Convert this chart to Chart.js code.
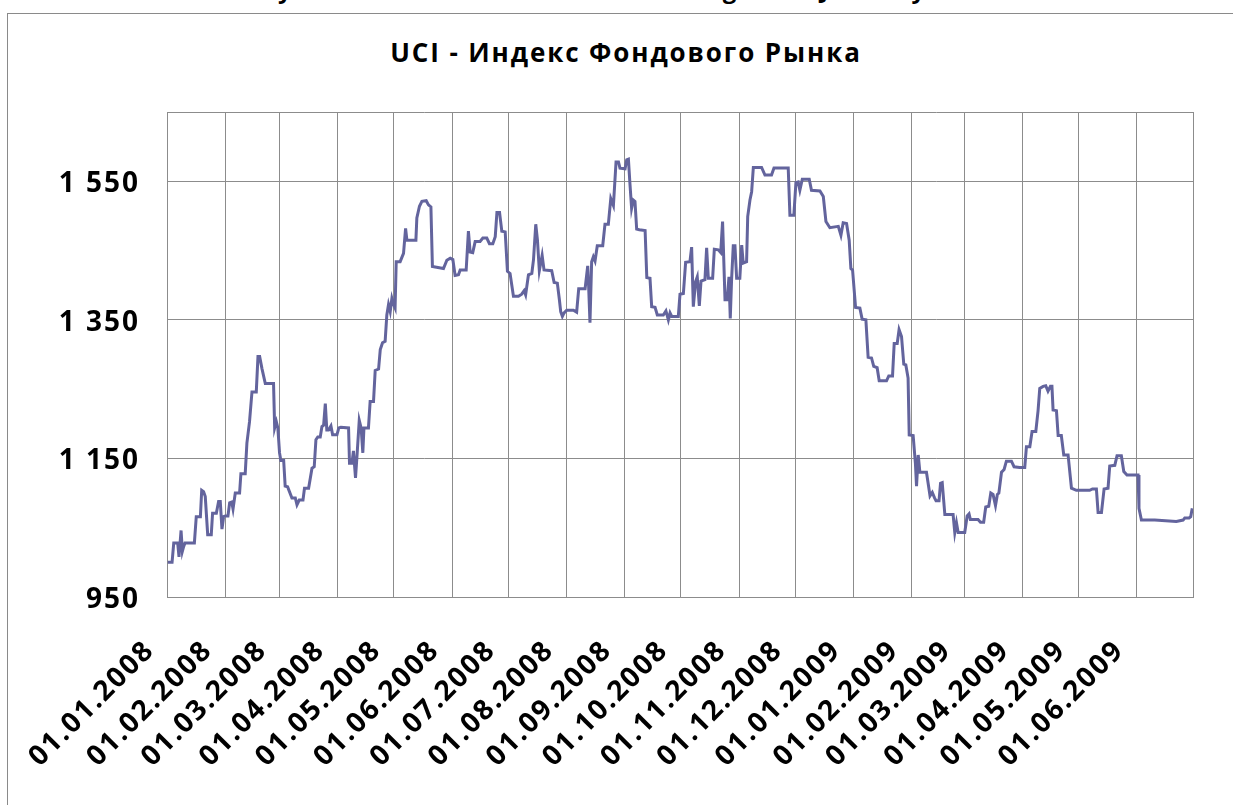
<!DOCTYPE html>
<html>
<head>
<meta charset="utf-8">
<script src="https://cdn.jsdelivr.net/npm/chart.js@4.4.1/dist/chart.umd.min.js"></script>
<style>
html,body{margin:0;padding:0;background:#fff;overflow:hidden;}
#wrap{position:relative;width:1233px;height:805px;overflow:hidden;background:#fff;}
#frame{position:absolute;left:7px;top:13px;width:1400px;height:1000px;border-left:1px solid #8a8a8a;border-top:1px solid #8a8a8a;}
#topTitle{position:absolute;left:0;width:1256px;top:-23px;line-height:24px;text-align:center;font-family:'Open Sans';font-weight:bold;font-size:24px;letter-spacing:1.9px;white-space:nowrap;color:#000;}
#subTitle{position:absolute;left:0;width:1252px;top:39px;line-height:26px;text-align:center;font-family:'Open Sans';font-weight:bold;font-size:26px;letter-spacing:1.9px;white-space:nowrap;color:#000;}
canvas{position:absolute;left:0;top:0;}
</style>
</head>
<body>
<div id="wrap">
  <div id="topTitle">Dynamics of the UCI index starting from January 2008</div>
  <div id="frame"></div>
  <div id="subTitle">UCI - Индекс Фондового Рынка</div>
  <canvas id="c" width="1233" height="805"></canvas>
</div>
<script>
// Days elapsed since 01.01.2008 (x position of each observation)
const dayOffsets = [
0.4,2.7,3.6,5.7,6.4,7.5,8.2,8.9,9.6,14.6,15.6,17.8,18.5,19.5,20.4,21.7,23.6,24.3,26.3,27.5,28.4,29.3,30.2,31.1,32.5,33.4,34.5,35.2,36.4,38.7,
39.4,41.7,42.6,44.0,45.3,47.6,48.5,49.4,50.6,52.4,56.8,57.4,58.3,59.1,60.0,60.7,62.2,63.0,64.3,66.6,68.4,69.3,70.5,72.5,73.3,75.5,77.3,78.5,79.4,80.4,
81.7,82.6,83.5,84.4,85.2,86.1,87.4,88.3,90.6,91.6,92.7,96.8,97.3,98.6,99.4,100.5,101.4,102.5,103.5,104.4,105.0,107.4,108.3,110.1,111.0,112.8,113.7,114.9,116.3,117.2,
118.1,119.0,119.9,120.8,121.6,122.2,124.3,126.1,127.2,127.9,132.7,133.2,134.6,135.9,138.2,139.4,140.7,141.5,147.4,149.2,151.0,152.4,153.6,155.4,156.3,159.5,160.7,161.6,163.0,164.3,
166.9,168.4,170.5,171.9,173.7,175.0,175.9,177.3,178.5,180.3,181.5,182.9,184.7,187.4,189.1,190.4,191.2,192.7,194.5,195.4,196.6,197.5,198.5,200.0,201.0,205.1,206.4,208.1,209.2,209.9,
210.8,211.7,213.1,216.7,218.4,219.5,222.9,224.3,224.8,225.5,226.4,227.3,228.2,229.4,232.3,233.5,235.3,236.6,238.0,239.4,240.7,241.5,244.2,245.1,246.0,246.8,247.7,248.6,249.5,250.4,
251.8,254.9,255.8,257.5,258.4,260.2,261.4,264.6,266.0,267.3,268.2,269.1,272.6,273.5,275.3,276.5,278.8,279.7,280.6,281.8,282.7,283.8,284.7,286.8,287.7,288.6,290.9,291.8,293.9,295.2,
296.2,297.5,298.7,299.6,300.3,301.0,301.9,302.8,303.7,305.4,306.4,307.2,309.0,309.6,310.8,311.7,312.6,317.0,318.8,322.3,323.6,331.2,332.1,334.2,335.3,336.5,337.4,338.7,342.4,343.6,
348.1,349.9,351.3,353.4,357.9,359.3,360.5,362.3,363.7,364.6,365.5,367.1,369.4,370.6,372.6,373.8,375.6,376.8,378.6,379.7,383.6,384.8,386.8,387.7,389.3,390.3,391.6,392.8,393.9,395.1,
395.7,397.8,399.0,399.6,400.5,401.4,404.9,406.8,408.0,409.2,410.0,411.6,412.4,413.3,414.7,419.1,420.0,420.9,421.8,425.3,426.6,427.6,428.3,432.4,433.7,435.4,436.5,438.1,439.2,440.4,
441.7,442.7,443.5,444.9,446.3,447.5,450.2,451.6,454.6,457.3,458.2,460.0,461.2,463.2,464.4,465.3,467.1,468.5,469.7,471.0,471.8,472.4,474.2,475.1,476.8,478.1,480.4,482.2,484.8,491.9,
493.4,495.5,496.4,498.2,499.6,501.7,502.6,505.3,506.5,508.8,510.1,511.8,517.7,518.2,519.5,526.6,538.1,541.7,542.6,544.9,545.8,546.6
];
// UCI index values
const uciValues = [
1000,1000,1028,1028,1008,1046,1016,1023,1028,1028,1066,1066,1104,1102,1095,1040,1040,1071,1071,1088,1088,1048,1066,1067,1067,1086,1087,1077,1100,1100,
1128,1128,1172,1203,1246,1246,1297,1297,1280,1258,1258,1194,1203,1194,1158,1147,1147,1110,1109,1093,1093,1083,1090,1090,1107,1107,1136,1138,1177,1181,
1181,1196,1198,1229,1191,1191,1197,1184,1184,1194,1195,1194,1143,1143,1161,1122,1158,1205,1194,1158,1194,1194,1232,1232,1277,1279,1307,1317,1319,1357,
1372,1362,1381,1372,1367,1434,1434,1446,1482,1465,1465,1497,1514,1521,1522,1516,1513,1427,1424,1436,1439,1437,1414,1415,1422,1422,1478,1448,1447,1463,
1463,1468,1468,1460,1460,1470,1505,1505,1478,1477,1420,1417,1384,1384,1387,1392,1386,1415,1417,1437,1488,1465,1421,1443,1422,1421,1404,1403,1379,1362,
1355,1360,1364,1364,1361,1395,1395,1428,1398,1346,1434,1441,1435,1457,1457,1488,1488,1525,1515,1578,1578,1569,1568,1581,1582,1547,1511,1523,1521,1481,
1480,1479,1411,1410,1369,1368,1357,1357,1363,1350,1360,1355,1355,1387,1388,1433,1434,1455,1369,1405,1412,1370,1406,1408,1454,1410,1410,1452,1451,1447,
1492,1379,1379,1412,1352,1408,1457,1457,1410,1410,1458,1432,1434,1499,1523,1535,1570,1570,1559,1559,1569,1569,1501,1501,1548,1549,1537,1553,1553,1537,
1536,1528,1492,1483,1485,1472,1490,1489,1465,1424,1422,1368,1367,1351,1350,1296,1295,1283,1281,1262,1262,1269,1269,1316,1316,1336,1326,1286,1285,1266,
1184,1183,1143,1110,1155,1130,1130,1096,1101,1093,1089,1089,1114,1115,1069,1069,1043,1057,1043,1043,1067,1070,1062,1062,1058,1058,1080,1081,1100,1098,
1082,1098,1100,1130,1134,1146,1146,1138,1137,1137,1167,1167,1189,1189,1219,1251,1254,1255,1247,1254,1254,1220,1219,1183,1183,1155,1155,1107,1104,1104,
1106,1106,1072,1072,1106,1107,1139,1140,1154,1154,1131,1126,1126,1078,1061,1061,1059,1061,1064,1064,1066,1078
];
// Month-start tick positions (days since 01.01.2008) and their labels
const monthTickDays = [0,31,60,91,121,152,182,213,244,274,305,335,366,397,425,456,486,517,547];
const monthTickLabels = ['01.01.2008','01.02.2008','01.03.2008','01.04.2008','01.05.2008','01.06.2008','01.07.2008','01.08.2008','01.09.2008','01.10.2008','01.11.2008','01.12.2008','01.01.2009','01.02.2009','01.03.2009','01.04.2009','01.05.2009','01.06.2009',''];
const yTickValues = [950,1150,1350,1550,1650];
const yTickLabels = ['950','1 150','1 350','1 550',''];

const spacingPlugin = {
  id: 'letterSpacing',
  beforeUpdate(chart){ chart.ctx.letterSpacing = '2px'; },
  beforeDraw(chart){ chart.ctx.letterSpacing = '2px'; }
};

const gridColor = '#8c8c8c';
const tickFont = {family: "'Open Sans'", weight: 'bold', size: 28};

new Chart(document.getElementById('c'), {
  type: 'line',
  data: {
    datasets: [{
      label: 'UCI',
      data: dayOffsets.map((d, i) => ({x: d, y: uciValues[i]})),
      borderColor: '#63649d',
      borderWidth: 3,
      pointRadius: 0,
      tension: 0,
      fill: false
    }]
  },
  options: {
    responsive: false,
    animation: false,
    devicePixelRatio: 1,
    layout: {padding: {top: 112, right: 40, bottom: 0, left: 0}},
    plugins: {legend: {display: false}, tooltip: {enabled: false}, title: {display: false}},
    scales: {
      x: {
        type: 'linear',
        min: 0,
        max: 547,
        afterBuildTicks(scale){ scale.ticks = monthTickDays.map(v => ({value: v})); },
        afterFit(scale){ scale.height = 208; scale.paddingLeft = 0; scale.paddingRight = 0; },
        grid: {color: gridColor, lineWidth: 1, drawTicks: false},
        border: {color: gridColor, width: 1},
        ticks: {
          autoSkip: false,
          maxRotation: 45,
          minRotation: 45,
          padding: 37,
          labelOffset: -17,
          color: '#000',
          font: tickFont,
          callback: (v, i) => monthTickLabels[i]
        }
      },
      y: {
        min: 950,
        max: 1650,
        afterBuildTicks(scale){ scale.ticks = yTickValues.map(v => ({value: v})); },
        afterFit(scale){ scale.width = 167; scale.paddingTop = 0; scale.paddingBottom = 0; },
        grid: {color: gridColor, lineWidth: 1, drawTicks: false},
        border: {color: gridColor, width: 1},
        ticks: {
          padding: 27,
          labelOffset: 3,
          color: '#000',
          font: tickFont,
          callback: (v, i) => yTickLabels[i]
        }
      }
    }
  },
  plugins: [spacingPlugin]
});
</script>
</body>
</html>
